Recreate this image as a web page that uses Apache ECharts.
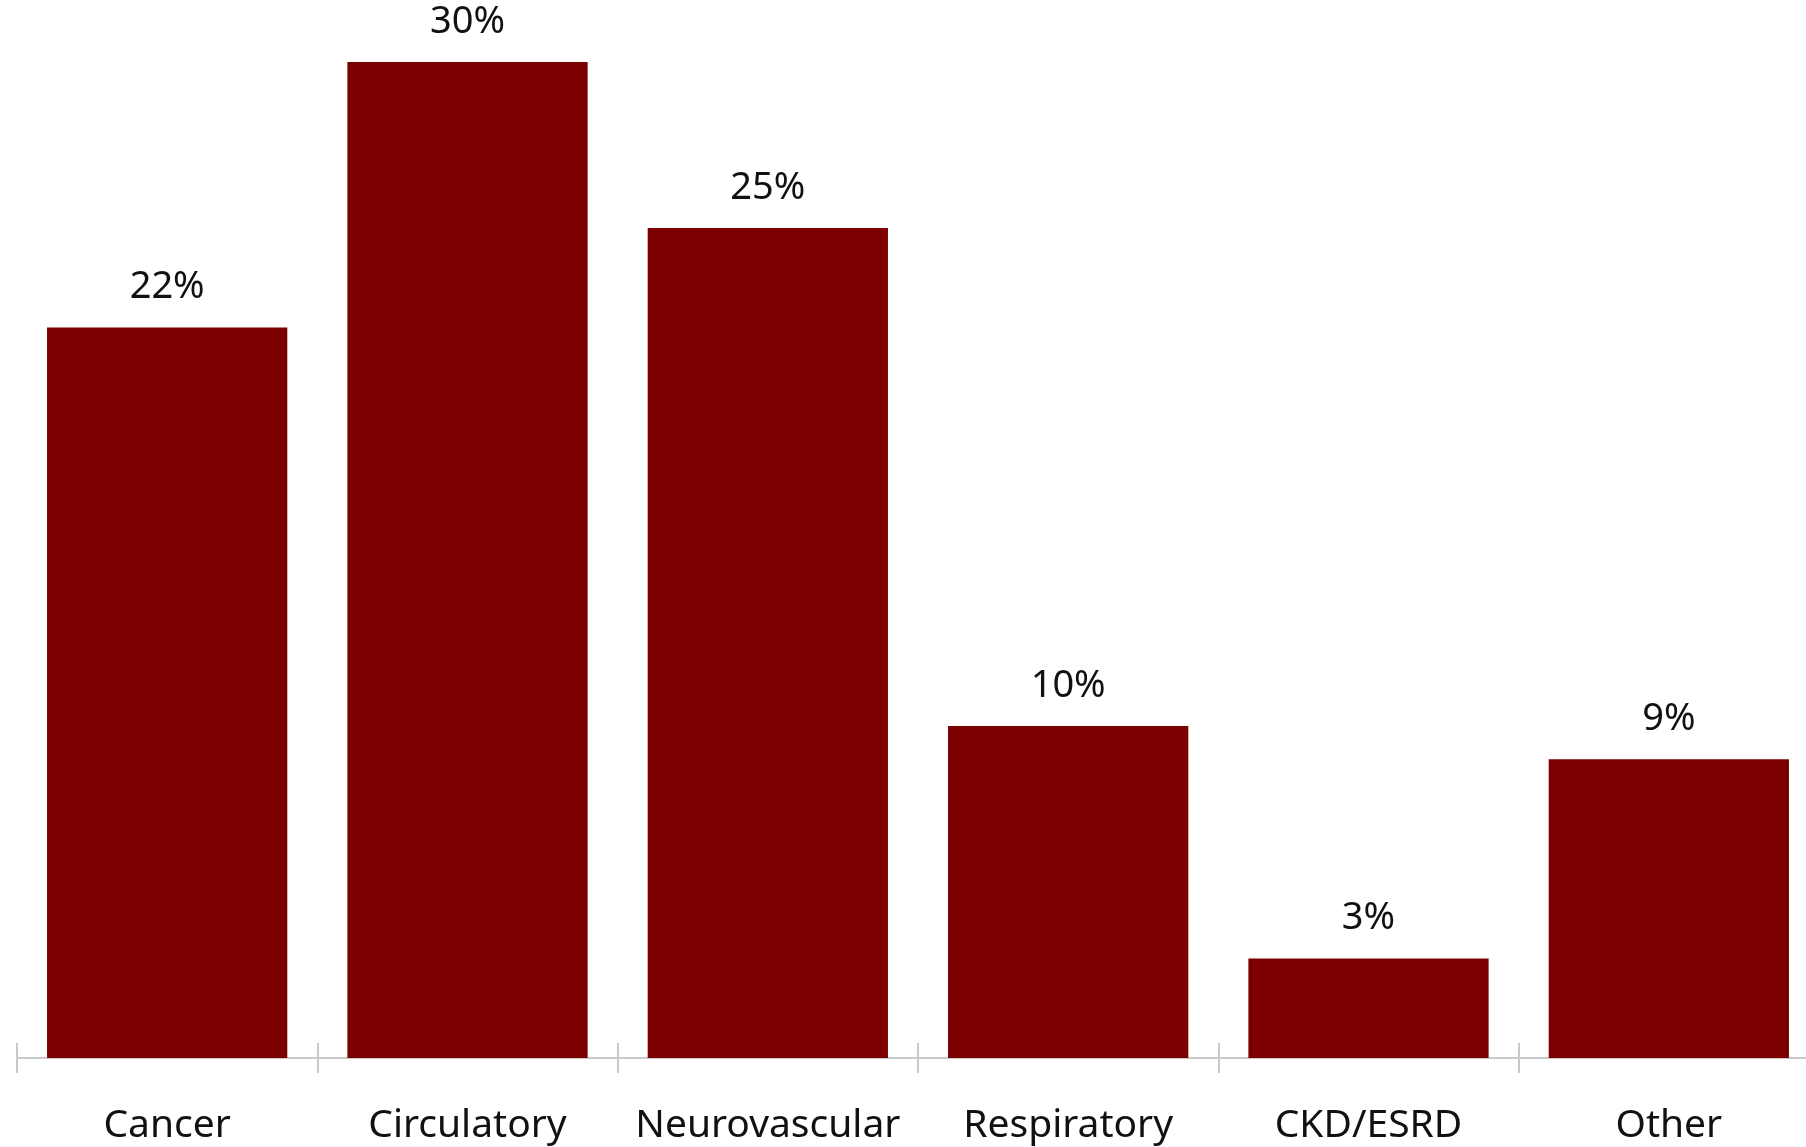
<!DOCTYPE html>
<html>
<head>
<meta charset="utf-8">
<script src="https://cdn.jsdelivr.net/npm/echarts@6/dist/echarts.min.js"></script>
<style>
  html, body { margin: 0; padding: 0; background: #ffffff; }
  #chart { width: 1806px; height: 1147px; }
</style>
</head>
<body>
<div id="chart"></div>
<script>
// Share of cases by primary cause
const categories = ['Cancer', 'Circulatory', 'Neurovascular', 'Respiratory', 'CKD/ESRD', 'Other'];
const shares = [22, 30, 25, 10, 3, 9];

const FONT = '"Noto Sans", "Open Sans", sans-serif';
const AXIS_GREY = '#c9c9c9';

const chart = echarts.init(document.getElementById('chart'), null, { renderer: 'canvas' });

chart.setOption({
  backgroundColor: '#ffffff',
  animation: false,
  grid: {
    left: 17, top: 62, width: 1802, bottom: 89,
    containLabel: false,
    outerBoundsMode: 'none'
  },
  xAxis: [
    {
      type: 'category',
      data: categories,
      position: 'bottom',
      axisLine: { show: true, lineStyle: { color: AXIS_GREY, width: 2 } },
      axisTick: { show: true, inside: false, length: 15, lineStyle: { color: AXIS_GREY, width: 2 } },
      axisLabel: { interval: 0, color: '#111111', fontFamily: FONT, fontSize: 39, margin: 48 }
    },
    {
      // upper half of the tick marks, crossing the axis line
      type: 'category',
      data: categories,
      position: 'bottom',
      axisLine: { show: false },
      axisTick: { show: true, inside: true, length: 15, lineStyle: { color: AXIS_GREY, width: 2 } },
      axisLabel: { show: false },
      splitLine: { show: false }
    }
  ],
  yAxis: {
    type: 'value',
    min: 0,
    max: 30,
    show: false,
    splitLine: { show: false }
  },
  series: [
    {
      type: 'bar',
      xAxisIndex: 0,
      data: shares,
      barCategoryGap: '20%',
      itemStyle: { color: '#7d0000' },
      label: {
        show: true,
        position: 'top',
        distance: 21,
        formatter: '{c}%',
        color: '#111111',
        fontFamily: FONT,
        fontSize: 38
      }
    }
  ]
});
</script>
</body>
</html>
